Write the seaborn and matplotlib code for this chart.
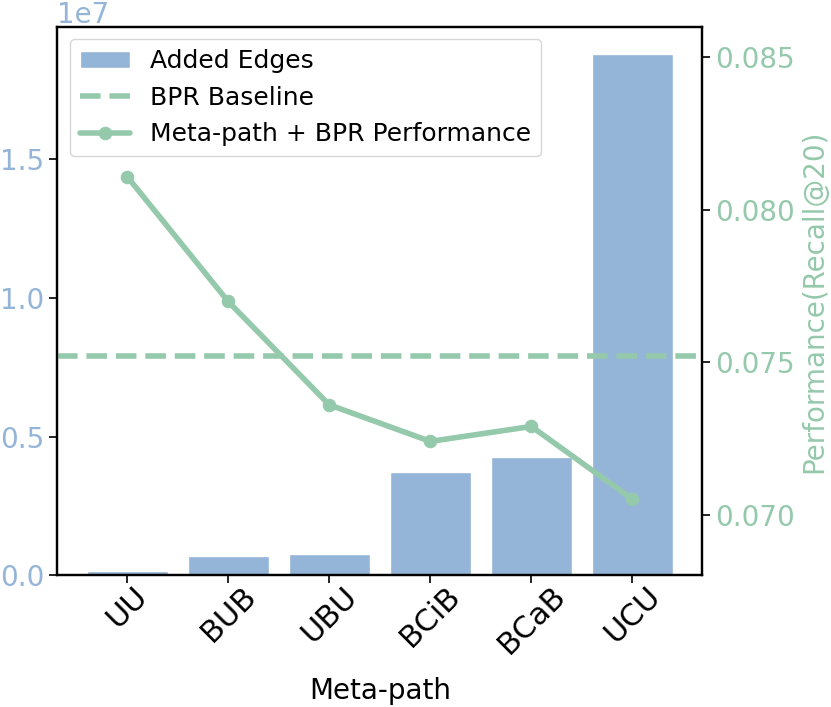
import seaborn as sns
import matplotlib.pyplot as plt
import pandas as pd

# meta-path data
meta_paths = ["UU", "BUB", "UBU", "BCiB", "BCaB", "UCU"]
added_edges = [1.45e5, 6.95e5, 7.8e5, 3.72e6, 4.26e6, 1.878e7]
performance = [0.08109, 0.07699, 0.07360, 0.07240, 0.07289, 0.07050]
bpr_baseline = 0.07519
left_ticks = [0, 0.5e7, 1.0e7, 1.5e7]
right_ticks = [0.070, 0.075, 0.080, 0.085]

bar_color = "#95b5d8"
line_color = "#95c9ab"

df = pd.DataFrame({"Meta-path": meta_paths, "Edges": added_edges, "Recall": performance})

sns.set_style("ticks")
plt.rcParams["font.family"] = ["DejaVu Sans"]
plt.rcParams["text.color"] = "black"
plt.rcParams["axes.labelcolor"] = "black"
plt.rcParams["xtick.color"] = "black"
plt.rcParams["ytick.color"] = "black"

fig, ax = plt.subplots(figsize=(8.31, 7.07), dpi=100)
fig.subplots_adjust(left=0.069, right=0.845, top=0.962, bottom=0.186)

sns.barplot(data=df, x="Meta-path", y="Edges", color=bar_color, saturation=1,
            width=0.8, ax=ax, label="Added Edges")
ax.set_ylim(0, 1.975e7)
ax.set_xlim(-0.69, 5.69)
ax.set_yticks(left_ticks)
ax.set_ylabel("")
ax.set_xlabel("Meta-path", fontsize=20, labelpad=13)
ax.tick_params(axis="y", labelsize=20, labelcolor=bar_color, length=6, width=1.2)
ax.tick_params(axis="x", labelsize=22, rotation=45, length=6, width=1.2, pad=-2)
ax.yaxis.get_offset_text().set_fontsize(20)
ax.yaxis.get_offset_text().set_color(bar_color)

ax2 = ax.twinx()
ax2.axhline(bpr_baseline, color=line_color, ls="--", lw=4, label="BPR Baseline")
sns.lineplot(data=df, x="Meta-path", y="Recall", sort=False, ax=ax2, color=line_color,
             lw=4, marker="o", markersize=9, markeredgecolor=line_color,
             label="Meta-path + BPR Performance")
ax2.set_ylim(0.068, 0.086)
ax2.set_yticks(right_ticks)
ax2.set_ylabel("Performance(Recall@20)", fontsize=20, color=line_color)
ax2.tick_params(axis="y", labelsize=20, labelcolor=line_color, length=6, width=1.2)

for a in (ax, ax2):
    for s in a.spines.values():
        s.set_linewidth(1.6)
        s.set_color("black")

h1, l1 = ax.get_legend_handles_labels()
h2, l2 = ax2.get_legend_handles_labels()
if ax.get_legend() is not None:
    ax.get_legend().remove()
ax2.legend(h1 + h2, l1 + l2, loc="upper left", fontsize=18, frameon=True)

plt.savefig("out.png")
